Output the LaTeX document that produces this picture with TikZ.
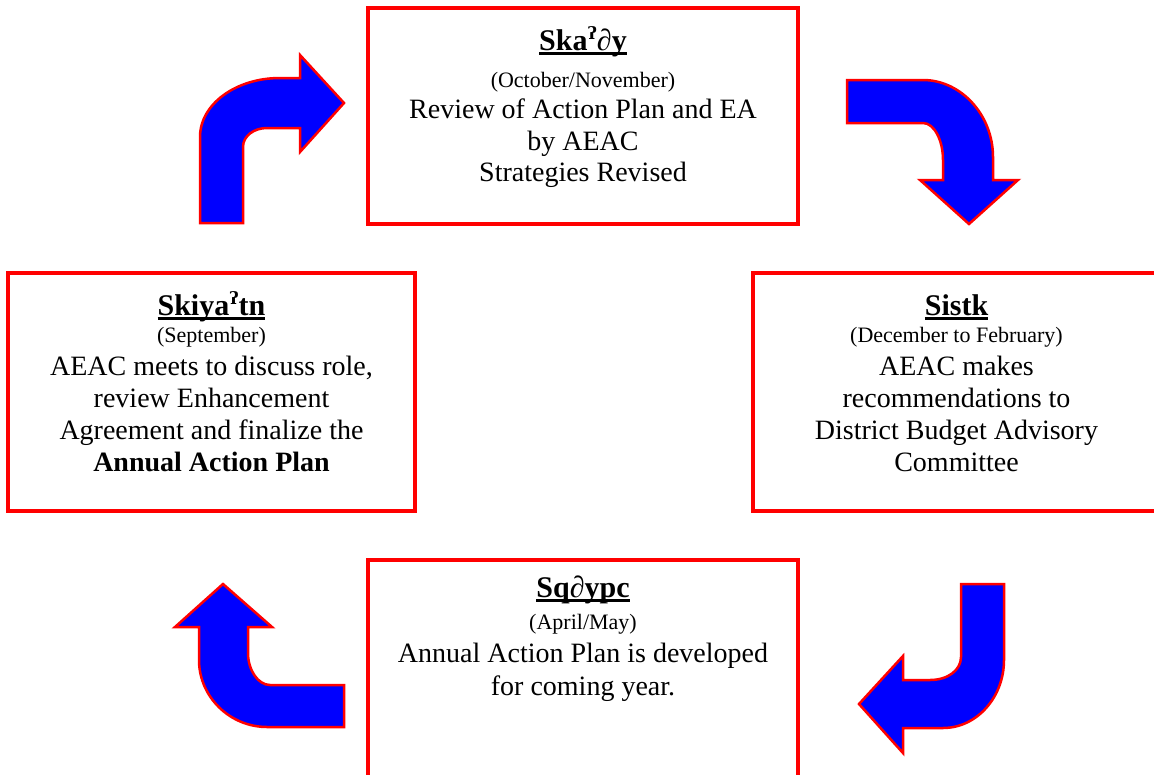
\documentclass[tikz,border=0pt]{standalone}
\usepackage{fontspec}
\setmainfont{Liberation Serif}
\newfontfamily\dvs{DejaVu Serif}
\newcommand\myul[1]{\setbox0\hbox{#1}\leavevmode\rlap{\copy0}\rule[-4.5pt]{\wd0}{2.2pt}}
\newcommand\gs{\raisebox{11pt}{\fontsize{17}{17}\selectfont\dvs\bfseries ʔ}}
\tikzset{
 box/.style={draw=red, line width=4pt, rectangle, inner sep=0pt},
 arr/.style={fill=blue, draw=red, line width=2.5pt, line join=miter},
 ttl/.style={anchor=base, inner sep=0pt, font=\fontsize{30}{34}\selectfont\bfseries},
 sub/.style={anchor=base, inner sep=0pt, font=\fontsize{22}{26}\selectfont},
 txt/.style={anchor=base, inner sep=0pt, font=\fontsize{28}{32}\selectfont},
}
\begin{document}
\begin{tikzpicture}[x=1pt,y=-1pt]
\useasboundingbox (0,0) rectangle (1154,774);
% boxes
\node[box, minimum width=430pt, minimum height=216pt] (topbox) at (583,116) {};
\node[box, minimum width=407pt, minimum height=238pt] (leftbox) at (211.5,392) {};
\node[box, minimum width=407pt, minimum height=238pt] (rightbox) at (956.5,392) {};
\node[box, minimum width=430pt, minimum height=220pt] (botbox) at (583,670) {};
% top text
\node[ttl] (t0) at (583,50) {\myul{Ska\gs∂y}};
\node[sub] (t1) at (583,87) {(October/November)};
\node[txt] (t2) at (583,118) {Review of Action Plan and EA};
\node[txt] (t3) at (583,150) {by AEAC};
\node[txt] (t4) at (583,181) {Strategies Revised};
% left text
\node[ttl] (l0) at (211.5,315) {\myul{Skiya\gs tn}};
\node[sub] (l1) at (211.5,342) {(September)};
\node[txt] (l2) at (211.5,375) {AEAC meets to discuss role,};
\node[txt] (l3) at (211.5,407) {review Enhancement};
\node[txt] (l4) at (211.5,439) {Agreement and finalize the};
\node[txt, font=\fontsize{28}{32}\selectfont\bfseries] (l5) at (211.5,471) {Annual Action Plan};
% right text
\node[ttl] (r0) at (956.5,315) {\myul{Sistk}};
\node[sub] (r1) at (956.5,342) {(December to February)};
\node[txt] (r2) at (956.5,375) {AEAC makes};
\node[txt] (r3) at (956.5,407) {recommendations to};
\node[txt] (r4) at (956.5,439) {District Budget Advisory};
\node[txt] (r5) at (956.5,471) {Committee};
% bottom text
\node[ttl] (b0) at (583,597) {\myul{Sq∂ypc}};
\node[sub] (b1) at (583,629) {(April/May)};
\node[txt] (b2) at (583,662) {Annual Action Plan is developed};
\node[txt] (b3) at (583,695) {for coming year.};
% arrows
\draw[arr] (200,223) -- (200,137) .. controls (200,104) and (236,78) .. (280,78) -- (300,78) -- (300,55) -- (344,103) -- (300,152) -- (300,128) -- (267,128) .. controls (254,128) and (243,136) .. (243,147) -- (243,223) -- cycle;
\draw[arr] (847,80) -- (923,80) .. controls (961,80) and (993,115) .. (993,157) -- (993,180) -- (1018,180) -- (969,224) -- (920,180) -- (943,180) -- (943,160) .. controls (943,140) and (934,123) .. (923,123) -- (847,123) -- cycle;
\draw[arr] (961,584) -- (1004,584) -- (1004,660) .. controls (1004,697) and (977,728) .. (943,728) -- (903,728) -- (903,753) -- (859,704) -- (903,656) -- (903,680) -- (930,680) .. controls (948,680) and (961,670) .. (961,657) -- cycle;
\draw[arr] (344,685) -- (344,727) -- (267,727) .. controls (230,727) and (199,697) .. (199,660) -- (199,627) -- (175,627) -- (223,584) -- (272,627) -- (248,627) -- (248,653) .. controls (248,670) and (258,685) .. (270,685) -- cycle;
\end{tikzpicture}
\end{document}
